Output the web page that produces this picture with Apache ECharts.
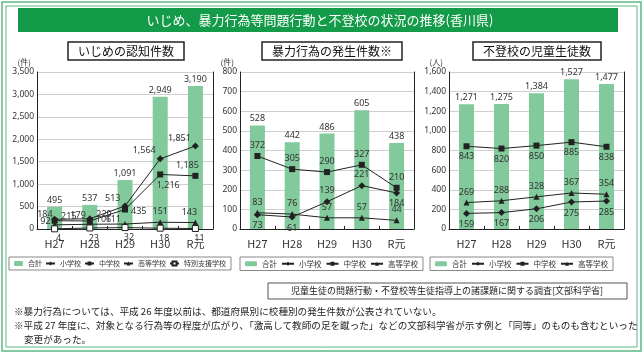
<!DOCTYPE html>
<html>
<head>
<meta charset="utf-8">
<script src="https://cdn.jsdelivr.net/npm/echarts@6/dist/echarts.min.js"></script>
<style>
html, body {margin: 0; padding: 0; background: #fff;}
#main {width: 644px; height: 354px;}
</style>
</head>
<body>
<div id="main"></div>
<script>
// 年度
const years = ['H27', 'H28', 'H29', 'H30', 'R元'];

// いじめの認知件数
const ijimeTotal = [495, 537, 1091, 2949, 3190];
const ijimeSho = [215, 229, 513, 1564, 1851];
const ijimeChu = [184, 179, 435, 1216, 1185];
const ijimeKou = [92, 106, 111, 151, 143];
const ijimeToku = [4, 23, 32, 18, 11];

// 暴力行為の発生件数
const bouTotal = [528, 442, 486, 605, 438];
const bouSho = [73, 61, 139, 221, 184];
const bouChu = [372, 305, 290, 327, 210];
const bouKou = [83, 76, 57, 57, 44];

// 不登校の児童生徒数
const futoTotal = [1271, 1275, 1384, 1527, 1477];
const futoSho = [159, 167, 206, 275, 285];
const futoChu = [843, 820, 850, 885, 838];
const futoKou = [269, 288, 328, 367, 354];

const CJK = '"Noto Sans CJK JP", "Noto Sans", sans-serif';
const NUM = '"Liberation Sans Narrow", "Noto Sans", sans-serif';
const GREEN = '#149b4a';
const BAR = '#82c99b';
const INK = '#222';

function fmt(v) {
    return Number(v).toLocaleString('en-US');
}

// ラベル位置 [position, dx, dy]
function withLabels(values, pos) {
    return values.map(function (v, i) {
        let p = pos[i];
        return {value: v, label: {position: p[0], offset: [p[1], p[2]]}};
    });
}

function barSeries(idx, data) {
    return {
        type: 'bar', name: '合計', xAxisIndex: idx, yAxisIndex: idx * 2,
        data: data, barWidth: 15, itemStyle: {color: BAR},
        label: {show: true, position: 'top', distance: 2, fontSize: 9, color: '#333', fontFamily: NUM,
            formatter: function (p) { return fmt(p.value); }},
        z: 1
    };
}

function lineSeries(idx, name, symbol, size, data, hollow) {
    return {
        type: 'line', name: name, xAxisIndex: idx, yAxisIndex: idx * 2,
        data: data, symbol: symbol, symbolSize: size, clip: false,
        lineStyle: {color: INK, width: 1},
        itemStyle: hollow ? {color: '#fff', borderColor: INK, borderWidth: 1} : {color: INK},
        label: {show: true, fontSize: 9, color: '#333', fontFamily: NUM, distance: 3,
            formatter: function (p) { return fmt(p.value); }},
        z: 3
    };
}

const grids = [
    {left: 37, top: 72, width: 176, height: 157},
    {left: 240, top: 72, width: 174, height: 157},
    {left: 449, top: 72, width: 175, height: 157}
];
const ymax = [3500, 800, 1600];
const ystep = [500, 100, 200];
const units = ['(件)', '(件)', '(人)'];

let xAxes = [], yAxes = [];
grids.forEach(function (g, i) {
    xAxes.push({
        type: 'category', gridIndex: i, data: years,
        axisLine: {lineStyle: {color: INK, width: 1}},
        axisTick: {show: true, inside: true, length: 3, lineStyle: {color: INK}},
        axisLabel: {fontSize: 11, color: '#333', margin: 9, fontFamily: CJK}
    });
    yAxes.push({
        type: 'value', gridIndex: i, min: 0, max: ymax[i], interval: ystep[i],
        name: units[i], nameLocation: 'end', nameGap: 6,
        nameTextStyle: {fontSize: 8, color: '#333', align: 'right', fontFamily: CJK, padding: [0, 6, 0, 0]},
        axisLine: {show: true, lineStyle: {color: INK, width: 1}},
        axisTick: {show: false},
        axisLabel: {fontSize: 8.5, color: '#333', margin: 3, fontFamily: NUM, formatter: fmt},
        splitLine: {lineStyle: {color: '#cfcfcf', width: 1}}
    });
    yAxes.push({
        type: 'value', gridIndex: i, position: 'right', min: 0, max: ymax[i], interval: ystep[i],
        axisLine: {show: true, lineStyle: {color: INK, width: 1}},
        axisTick: {show: false}, axisLabel: {show: false}, splitLine: {show: false}
    });
});

const series = [
    barSeries(0, ijimeTotal),
    lineSeries(0, '小学校', 'diamond', 7, withLabels(ijimeSho,
        [['right', 0, -3], ['right', 0, -4], ['left', 2, -8], ['left', 2, -8], ['left', 2, -8]])),
    lineSeries(0, '中学校', 'rect', 6, withLabels(ijimeChu,
        [['left', 4, -6], ['left', 2, -6], ['right', 0, 2], ['bottom', 8, 0], ['top', -8, 0]])),
    lineSeries(0, '高等学校', 'triangle', 6, withLabels(ijimeKou,
        [['left', 2, -3], ['right', 0, -5], ['left', 2, -5], ['top', 0, 0], ['top', -6, 0]])),
    lineSeries(0, '特別支援学校', 'rect', 6, withLabels(ijimeToku,
        [['bottom', 4, -1], ['bottom', 4, -1], ['bottom', 4, -1], ['bottom', 4, -1], ['bottom', 4, -1]]), true),

    barSeries(1, bouTotal),
    lineSeries(1, '小学校', 'diamond', 7, withLabels(bouSho,
        [['bottom', 0, 0], ['bottom', 0, 0], ['top', 0, 0], ['top', 0, 0], ['bottom', 0, 0]])),
    lineSeries(1, '中学校', 'rect', 6, withLabels(bouChu,
        [['top', 0, 0], ['top', 0, 0], ['top', 0, 0], ['top', 0, 0], ['top', 0, 0]])),
    lineSeries(1, '高等学校', 'triangle', 6, withLabels(bouKou,
        [['top', 0, 0], ['top', 0, 0], ['top', 0, 0], ['top', 0, 0], ['top', 0, 0]])),

    barSeries(2, futoTotal),
    lineSeries(2, '小学校', 'diamond', 7, withLabels(futoSho,
        [['bottom', 0, 0], ['bottom', 0, 0], ['bottom', 0, 0], ['bottom', 0, 0], ['bottom', 0, 0]])),
    lineSeries(2, '中学校', 'rect', 6, withLabels(futoChu,
        [['bottom', 0, 0], ['bottom', 0, 0], ['bottom', 0, 0], ['bottom', 0, 0], ['bottom', 0, 0]])),
    lineSeries(2, '高等学校', 'triangle', 6, withLabels(futoKou,
        [['top', 0, 0], ['top', 0, 0], ['top', 0, 0], ['top', 0, 0], ['top', 0, 0]]))
];

function legendBox(left, names, size, iw, gap) {
    return {
        left: left, top: 257, data: names, orient: 'horizontal',
        itemWidth: iw, itemHeight: 5, itemGap: gap,
        textStyle: {fontSize: size, color: '#333', fontFamily: CJK},
        borderColor: '#888', borderWidth: 1, padding: [3, 5], selectedMode: false
    };
}

function titleBox(left, text) {
    return {
        text: text, left: left, top: 42,
        textStyle: {fontSize: 12, fontWeight: 'normal', color: '#111', fontFamily: CJK},
        borderColor: '#222', borderWidth: 1.5, padding: [3, 10]
    };
}

let chart = echarts.init(document.getElementById('main'), null, {renderer: 'canvas'});
chart.setOption({
    animation: false,
    backgroundColor: '#fff',
    title: [
        titleBox(68, 'いじめの認知件数'),
        titleBox(262, '暴力行為の発生件数※'),
        titleBox(473, '不登校の児童生徒数')
    ],
    legend: [
        legendBox(9, ['合計', '小学校', '中学校', '高等学校', '特別支援学校'], 7, 9, 3),
        legendBox(240, ['合計', '小学校', '中学校', '高等学校'], 7.5, 12, 4),
        legendBox(430, ['合計', '小学校', '中学校', '高等学校'], 7.5, 12, 4)
    ],
    grid: grids,
    xAxis: xAxes,
    yAxis: yAxes,
    series: series,
    graphic: [
        {type: 'rect', shape: {x: 2, y: 2, width: 639, height: 349}, style: {fill: 'none', stroke: '#5db887', lineWidth: 1.5}, silent: true},
        {type: 'rect', shape: {x: 6, y: 6, width: 631, height: 341}, style: {fill: 'none', stroke: '#5db887', lineWidth: 1}, silent: true},
        {type: 'rect', shape: {x: 18, y: 8, width: 600, height: 24}, style: {fill: GREEN}, silent: true},
        {type: 'text', x: 320, y: 20, style: {text: 'いじめ、暴力行為等問題行動と不登校の状況の推移(香川県)',
            fill: '#fff', fontSize: 13, fontFamily: CJK, align: 'center', verticalAlign: 'middle'}, silent: true},
        {type: 'rect', shape: {x: 268, y: 283, width: 359, height: 16}, style: {fill: '#fff', stroke: '#555', lineWidth: 1}, silent: true},
        {type: 'text', x: 447, y: 291, style: {text: '児童生徒の問題行動・不登校等生徒指導上の諸課題に関する調査[文部科学省]',
            fill: '#222', fontSize: 9, fontFamily: CJK, align: 'center', verticalAlign: 'middle'}, silent: true},
        {type: 'text', x: 14, y: 311, style: {text: '※暴力行為については、平成 26 年度以前は、都道府県別に校種別の発生件数が公表されていない。',
            fill: '#222', fontSize: 9.6, fontFamily: CJK, verticalAlign: 'middle'}, silent: true},
        {type: 'text', x: 14, y: 325, style: {text: '※平成 27 年度に、対象となる行為等の程度が広がり、「激高して教師の足を蹴った」などの文部科学省が示す例と「同等」のものも含むといった',
            fill: '#222', fontSize: 9.6, fontFamily: CJK, verticalAlign: 'middle'}, silent: true},
        {type: 'text', x: 24, y: 339, style: {text: '変更があった。',
            fill: '#222', fontSize: 9.6, fontFamily: CJK, verticalAlign: 'middle'}, silent: true}
    ]
});
</script>
</body>
</html>
